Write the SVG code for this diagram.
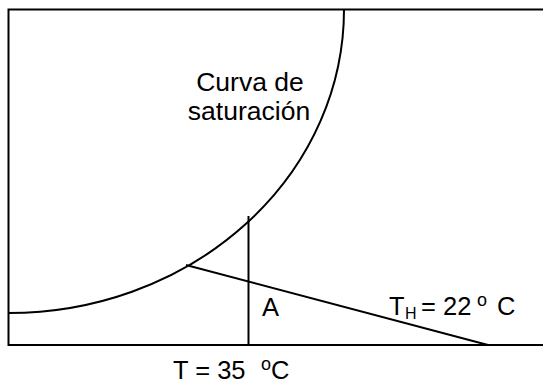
<svg xmlns="http://www.w3.org/2000/svg" width="543" height="385" viewBox="0 0 543 385">
<style>
.ln{fill:none;stroke:#000;stroke-width:2}
.t{font-family:"Liberation Sans",Arial,sans-serif;font-size:25.5px;fill:#000}
.c{font-size:26.5px}
.s{font-size:16px}
.o{font-size:18px}
</style>
<rect width="543" height="385" fill="#fff"/>
<g id="frame"><rect class="ln" x="8.5" y="9.5" width="540" height="335.5"/></g>
<g id="curve"><path class="ln" d="M344,9.5 A335.5,303.5 0 0 1 8.5,313"/></g>
<g id="lines">
<line class="ln" x1="248.5" y1="216" x2="248.5" y2="345"/>
<line class="ln" x1="186" y1="265" x2="488" y2="345"/>
</g>
<g id="labels">
<text class="t c" x="250" y="91" text-anchor="middle">Curva de</text>
<text class="t c" x="249" y="120" text-anchor="middle">saturación</text>
<text class="t" x="262" y="316">A</text>
<text class="t" y="315"><tspan x="389">T</tspan><tspan class="s" x="405" y="319">H</tspan><tspan x="421" y="315">= 22</tspan><tspan class="o" x="477" y="306">o</tspan><tspan x="497" y="315">C</tspan></text>
<text class="t" y="379"><tspan x="173">T = 35</tspan><tspan class="o" x="261" y="370">o</tspan><tspan x="271" y="379">C</tspan></text>
</g>
</svg>
